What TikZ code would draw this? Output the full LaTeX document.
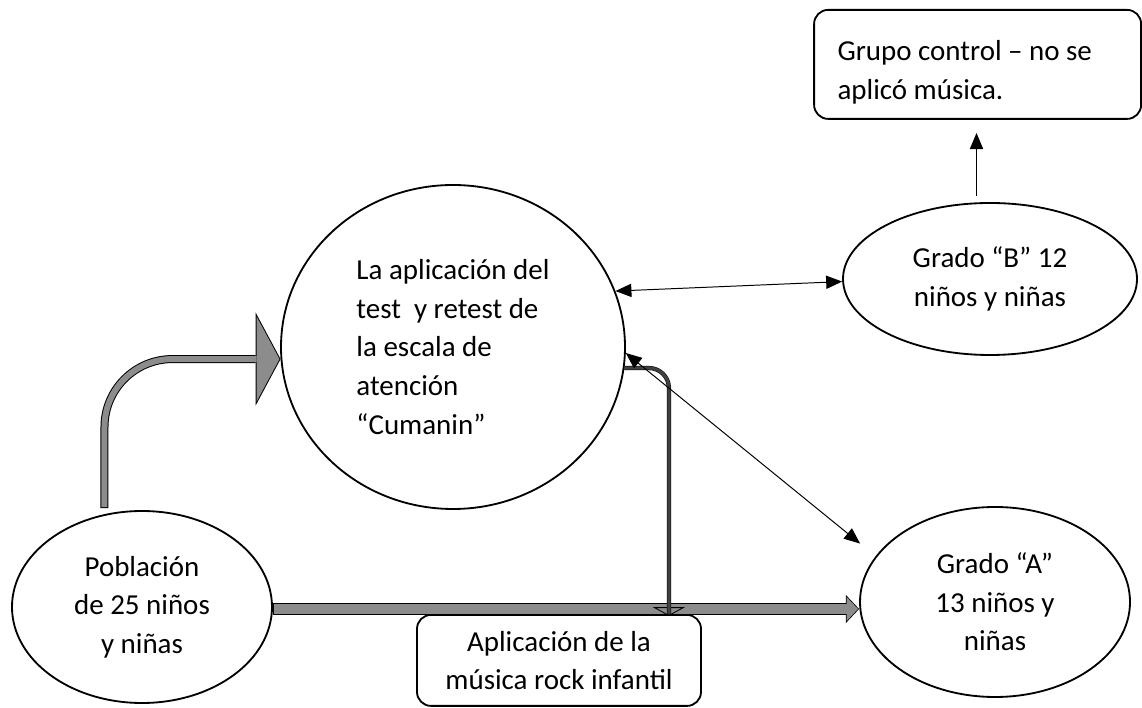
\documentclass[tikz,border=0pt]{standalone}
\usepackage{fontspec}
\setmainfont{Carlito}
\usetikzlibrary{arrows.meta, calc, positioning, shapes.geometric}
\definecolor{bargray}{RGB}{140,140,140}
\definecolor{bardark}{RGB}{64,64,64}

\begin{document}
\begin{tikzpicture}[
    >={Triangle[length=0.4cm, width=0.33cm]},
    every node/.style={font=\fontsize{20.6pt}{27.5pt}\selectfont},
    oval/.style={ellipse, draw, line width=1.3pt, inner sep=0pt, align=center},
    box/.style={rectangle, rounded corners=0.35cm, draw, line width=1.3pt, inner sep=0pt}
]
    \useasboundingbox (0,0) rectangle (28.55,17.7);

    % Circles and boxes
    \node[oval, minimum width=8.6cm, minimum height=8.1cm, align=left] (test) at (11.325,9.025)
        {La aplicación del\\test~ y retest de\\la escala de\\atención\\“Cumanin”};
    \node[oval, minimum width=6.5cm, minimum height=4.8cm] (pobl) at (3.55,2.525)
        {Población\\de 25 niños\\y niñas};
    \node[oval, minimum width=6.75cm, minimum height=4.75cm] (gradoA) at (24.875,2.65)
        {Grado “A”\\13 niños y\\niñas};
    \node[oval, minimum width=7.35cm, minimum height=3.8cm] (gradoB) at (24.75,10.725)
        {Grado “B” 12\\niños y niñas};
    \node[box, minimum width=8.175cm, minimum height=2.725cm, text width=7cm, align=flush left] (grupo) at (24.44,16.09)
        {\rule{0pt}{0.91cm}Grupo control – no se\\aplicó música.};
    \node[box, minimum width=7.1cm, minimum height=2.275cm, align=center] (app) at (13.975,1.19)
        {Aplicación de la\\música rock infantil};

    % Curved fat arrow
    \draw[line width=0.2cm, rounded corners=1.7cm, shorten <=0.15cm,
        -{Triangle[length=0.625cm, width=2.33cm, line width=0pt]}] (pobl.112) |- (test.184);
    \draw[bargray, line width=0.15cm, rounded corners=1.7cm, shorten <=0.175cm, shorten >=0.028cm,
        -{Triangle[length=0.572cm, width=2.13cm, line width=0pt]}] (pobl.112) |- (test.184);

    % Straight fat arrow
    \draw[line width=0.3cm, -{Triangle[length=0.33cm, width=0.7cm, line width=0pt]}]
        ($(pobl.east)+(0,-0.05)$) -- ($(pobl.east -| gradoA.west)+(0,-0.05)$);
    \draw[bargray, line width=0.26cm, shorten <=0.02cm, shorten >=0.0275cm,
        -{Triangle[length=0.2825cm, width=0.6cm, line width=0pt]}]
        ($(pobl.east)+(0,-0.05)$) -- ($(pobl.east -| gradoA.west)+(0,-0.05)$);

    % Music bar
    \coordinate (musictip) at ($(app.north east)+(-0.825,-0.05)$);
    \draw[line width=0.6pt, -{Triangle[open, length=0.22cm, width=0.8cm]}] ($(musictip)+(0,0.24)$) -- (musictip);
    \draw[line width=0.35pt, double=bardark, double distance=2.3pt, rounded corners=0.5cm]
        (test.-7) -| ($(musictip)+(0,0.05)$);

    % Thin arrows
    \draw[<->, line width=0.7pt] (test.19) -- (gradoB.181);
    \draw[<->, line width=0.7pt, shorten >=0.5cm] (test.-2) -- (gradoA.159);
    \draw[->, line width=0.7pt, shorten <=0.15cm, shorten >=0.33cm] (gradoB.100) -- (gradoB.100 |- grupo.south);
\end{tikzpicture}
\end{document}
